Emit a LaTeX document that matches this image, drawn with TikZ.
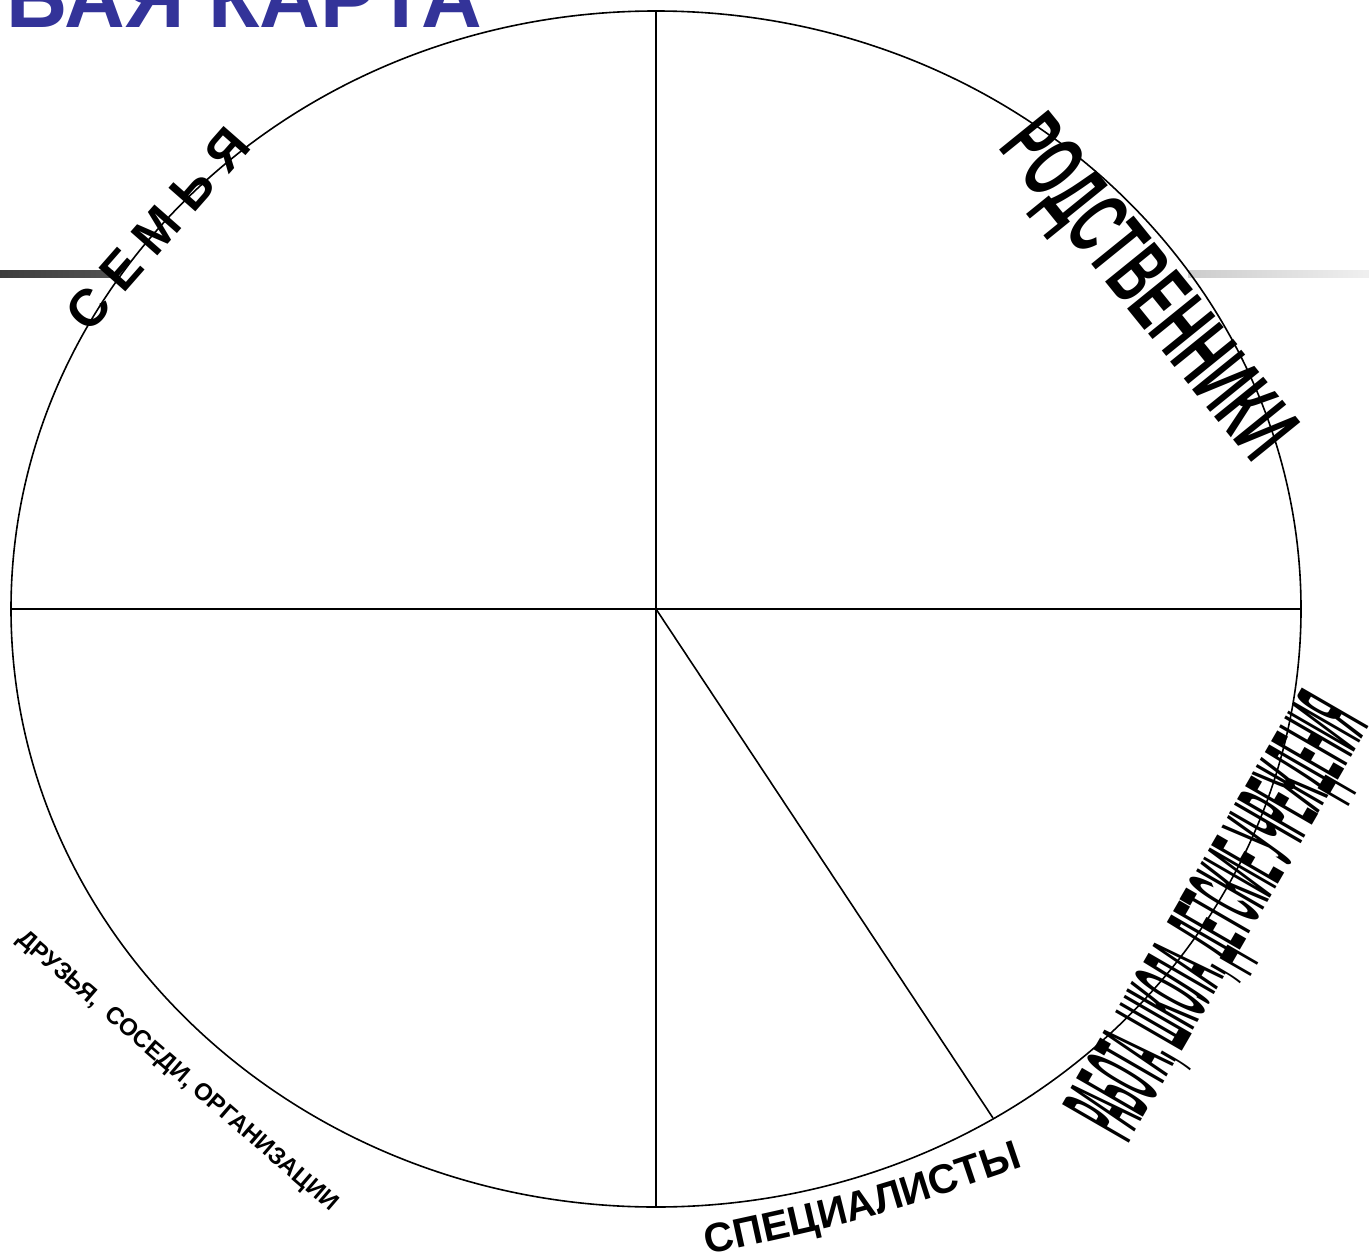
\documentclass[tikz,border=0pt]{standalone}
\usepackage{fontspec}
\setmainfont{Liberation Sans}
\usetikzlibrary{decorations.text}
\definecolor{titleblue}{RGB}{51,51,153}
\begin{document}
\begin{tikzpicture}[x=0.5pt,y=-0.5pt,
  rim/.style={line width=0.8pt, draw=black},
  spoke/.style={line width=0.8pt, draw=black},
  lbl/.style={inner sep=0pt, outer sep=0pt, text=black},
  bigbold/.style={font=\bfseries\fontsize{26}{26}\selectfont}]
\useasboundingbox (0,0) rectangle (1369,1257);
\clip (0,0) rectangle (1369,1257);
\fill[white] (0,0) rectangle (1369,1257);

% grey bars
\shade[left color=black!76, right color=black!68] (0,270) rectangle (113,277);
\shade[left color=black!20, right color=black!6] (1188,270) rectangle (1369,277);

% circle and spokes
\coordinate (c) at (656,609);
\coordinate (top) at (656,12);
\coordinate (bottom) at (656,1207);
\coordinate (left) at (11,609);
\coordinate (right) at (1301,609);
\coordinate (diag) at (993,1118);
\draw[rim] (c) ellipse [x radius=322.5pt, y radius=299pt];
\draw[spoke] (top) -- (bottom);
\draw[spoke] (left) -- (right);
\draw[spoke] (c) -- (diag);

% title (cut at top)
\node[lbl, text=titleblue, anchor=base east, font=\bfseries\fontsize{42}{42}\selectfont] (title) at (482,28) {БАЯ КАРТА};

% labels
\node[lbl, bigbold, rotate=48.7] (semya) at (157.5,229) {С Е М Ь Я};

\node[lbl, rotate=-51, anchor=base west] (rodstv) at (997,148)
  {\resizebox{204pt}{\height}{\bfseries\fontsize{46}{46}\selectfont РОДСТВЕННИКИ}};

\node[lbl, rotate=60, anchor=base west] (rabota) at (1128,1144)
  {\resizebox{242pt}{\height}{\bfseries\fontsize{56}{56}\selectfont РАБОТА, ШКОЛА, ДЕТСКИЕ УЧРЕЖДЕНИЯ}};

\node[lbl, rotate=-40.8] (druzya) at (177,1072)
  {\resizebox{207.5pt}{\height}{\bfseries\fontsize{12}{12}\selectfont ДРУЗЬЯ,\ \ СОСЕДИ, ОРГАНИЗАЦИИ}};

\coordinate (sp1) at (708,1254.6);
\coordinate (sp2) at (868,1219.7);
\coordinate (sp3) at (1023,1167);
\path[decorate, decoration={text along path,
    text={|\bfseries\fontsize{20.5}{20.5}\selectfont|СПЕЦИАЛИСТЫ},
    text align=center}] (sp1) .. controls (sp2) .. (sp3);
\end{tikzpicture}
\end{document}
